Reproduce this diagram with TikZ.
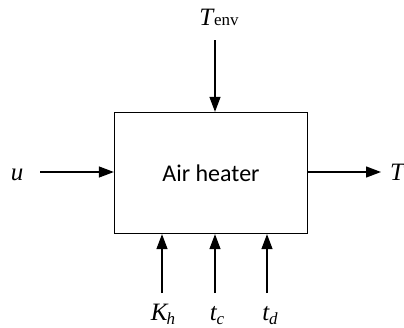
\documentclass[tikz,border=0pt]{standalone}
\usepackage{fontspec}
\setmainfont{Liberation Serif}
\newfontfamily\labelsans{Carlito}
\usetikzlibrary{arrows.meta}
\begin{document}
\begin{tikzpicture}[x=1pt,y=-1pt,
  arr/.style={draw, line width=1.3pt, -{Triangle[length=15pt,width=11pt]}},
  lbl/.style={inner sep=0pt, font=\fontsize{25}{28}\selectfont\itshape}]
\useasboundingbox (0,0) rectangle (404,327);
\node[draw, line width=1.3pt, minimum width=193pt, minimum height=121pt, inner sep=0pt,
  font=\labelsans\fontsize{24}{28}\selectfont] (box) at (211,173) {Air heater};
\node[lbl, anchor=base] (tenv) at (219,25) {T\kern1pt{\upshape\fontsize{17}{18}\selectfont env}};
\node[lbl, anchor=base] (u) at (17,180) {u};
\node[lbl, anchor=base] (tout) at (397,180) {T};
\node[lbl, anchor=base] (kh) at (163,320) {K\kern-1pt\raisebox{-4pt}{\fontsize{17}{18}\selectfont h}};
\node[lbl, anchor=base] (tc) at (217,320) {t\raisebox{-4pt}{\fontsize{17}{18}\selectfont c}};
\node[lbl, anchor=base] (td) at (270,320) {t\raisebox{-4pt}{\fontsize{17}{18}\selectfont d}};
\coordinate (a0) at (215,40);
\coordinate (a1) at (40,172);
\coordinate (a2) at (308,172);
\coordinate (a3) at (381,172);
\coordinate (b1) at (162,293);
\coordinate (b2) at (215,293);
\coordinate (b3) at (267,293);
\draw[arr] (a0) -- (a0 |- box.north);
\draw[arr] (a1) -- (box.west |- a1);
\draw[arr] (a2) -- (a3);
\draw[arr] (b1) -- (b1 |- box.south);
\draw[arr] (b2) -- (b2 |- box.south);
\draw[arr] (b3) -- (b3 |- box.south);
\end{tikzpicture}
\end{document}
